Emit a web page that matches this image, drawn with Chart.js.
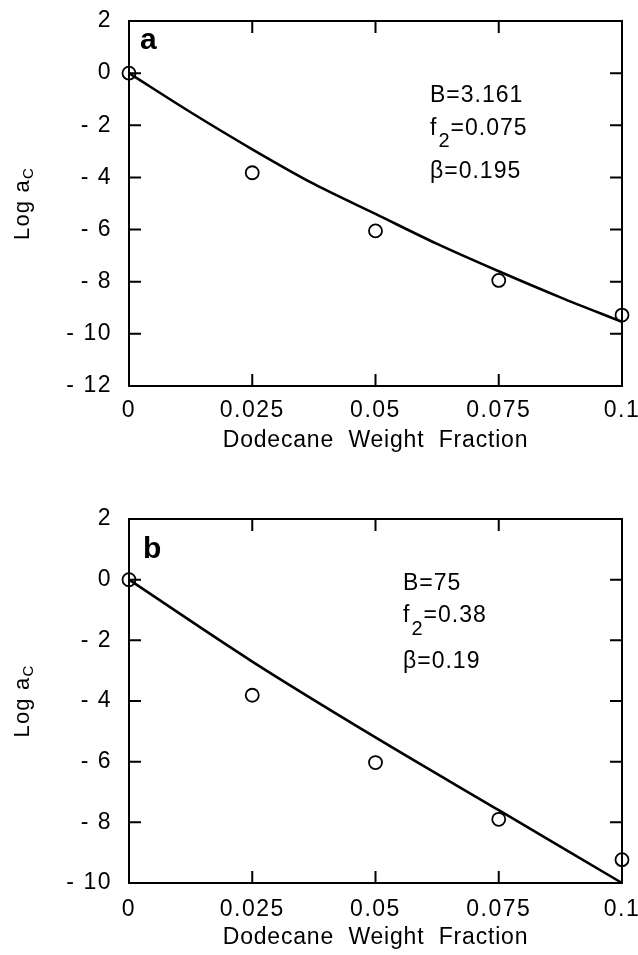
<!DOCTYPE html>
<html>
<head>
<meta charset="utf-8">
<script src="https://cdn.jsdelivr.net/npm/chart.js@4"></script>
<style>
  html, body { margin: 0; padding: 0; background: #fff; overflow: hidden; }
  #wrap { position: relative; width: 638px; height: 955px; overflow: hidden; }
  .panel { position: absolute; left: 0; }
</style>
</head>
<body>
<div id="wrap">
  <div class="panel" style="top:0"><canvas id="chartA" width="660" height="470"></canvas></div>
  <div class="panel" style="top:470px"><canvas id="chartB" width="660" height="485"></canvas></div>
</div>
<script>
// data
const xTicks = [0, 0.025, 0.05, 0.075, 0.1];
const xTickLabels = ["0", "0.025", "0.05", "0.075", "0.1"];

const obsX = [0, 0.025, 0.05, 0.075, 0.1];
const obsA = [0, -3.82, -6.05, -7.95, -9.28];
const obsB = [0, -3.81, -6.03, -7.9, -9.23];

const fitAX = [0, 0.0125, 0.025, 0.0375, 0.05, 0.0625, 0.075, 0.0875, 0.1];
const fitA = [0, -1.5, -2.92, -4.25, -5.4, -6.55, -7.6, -8.6, -9.54];
const fitBX = [0, 0.025, 0.05, 0.075, 0.1];
const fitB = [0, -2.7, -5.2, -7.6, -10];

const paramsA = ["B=3.161", "0.075", "β=0.195"];
const paramsB = ["B=75", "0.38", "β=0.19"];

const xTitle = "Dodecane  Weight  Fraction";

const FONT = "'Liberation Sans', Arial, Helvetica, sans-serif";

function pts(xs, ys) {
  return xs.map((x, i) => ({ x: x, y: ys[i] }));
}

function yLabel(v) {
  return v < 0 ? "- " + Math.abs(v) : String(v);
}

// frame, inside ticks, panel letter, parameters and axis titles
const framePlugin = {
  id: "frame",
  beforeLayout(chart) { chart.ctx.letterSpacing = "1.5px"; },
  beforeDraw(chart) { chart.ctx.letterSpacing = "1.5px"; },
  afterDraw(chart, args, o) {
    const { ctx, chartArea: a, scales: { x, y } } = chart;
    ctx.save();
    ctx.strokeStyle = "#000";
    ctx.lineWidth = 2;
    ctx.strokeRect(a.left, a.top, a.right - a.left, a.bottom - a.top);

    ctx.beginPath();
    x.ticks.forEach(t => {
      const px = x.getPixelForValue(t.value);
      ctx.moveTo(px, a.bottom); ctx.lineTo(px, a.bottom - 12);
      ctx.moveTo(px, a.top); ctx.lineTo(px, a.top + 12);
    });
    y.ticks.forEach(t => {
      const py = y.getPixelForValue(t.value);
      ctx.moveTo(a.left, py); ctx.lineTo(a.left + 12, py);
      ctx.moveTo(a.right, py); ctx.lineTo(a.right - 12, py);
    });
    ctx.stroke();

    ctx.fillStyle = "#000";
    ctx.textAlign = "left";
    ctx.textBaseline = "alphabetic";

    // panel letter
    ctx.letterSpacing = "0px";
    ctx.font = "bold 30px " + FONT;
    ctx.fillText(o.letter, o.letterX, o.letterY);

    // fit parameters
    ctx.letterSpacing = "1px";
    ctx.font = "23px " + FONT;
    const p = o.params;
    ctx.fillText(p[0], o.px, o.py[0]);
    ctx.fillText("f", o.px, o.py[1]);
    const fw = ctx.measureText("f").width;
    ctx.font = "20px " + FONT;
    ctx.fillText("2", o.px + fw + 1, o.subY);
    const sw = ctx.measureText("2").width;
    ctx.font = "23px " + FONT;
    ctx.fillText("=" + p[1], o.px + fw + sw + 1, o.py[1]);
    ctx.fillText(p[2], o.px, o.py[2]);

    // x axis title
    ctx.letterSpacing = "0.8px";
    ctx.textAlign = "center";
    ctx.textBaseline = "middle";
    ctx.font = "23px " + FONT;
    ctx.fillText(xTitle, (a.left + a.right) / 2, o.xTitleY);

    // y axis title: Log a with subscript C
    ctx.textAlign = "left";
    ctx.textBaseline = "alphabetic";
    ctx.letterSpacing = "1.2px";
    const cy = (a.top + a.bottom) / 2;
    ctx.translate(o.titleX, cy);
    ctx.rotate(-Math.PI / 2);
    ctx.font = "22px " + FONT;
    const w1 = ctx.measureText("Log a").width;
    ctx.font = "15px " + FONT;
    const w2 = ctx.measureText("C").width;
    const x0 = -(w1 + w2) / 2;
    ctx.font = "22px " + FONT;
    ctx.fillText("Log a", x0, 0);
    ctx.font = "15px " + FONT;
    ctx.fillText("C", x0 + w1, 4);
    ctx.restore();
  }
};

function makeChart(id, obsY, fitX, fitY, yMin, opts) {
  const ctx = document.getElementById(id).getContext("2d");
  return new Chart(ctx, {
    type: "scatter",
    data: {
      datasets: [
        {
          label: "measured",
          data: pts(obsX, obsY),
          showLine: false,
          pointStyle: "circle",
          pointRadius: 6.5,
          pointBorderWidth: 1.8,
          pointBorderColor: "#000",
          pointBackgroundColor: "rgba(0,0,0,0)",
          clip: false
        },
        {
          label: "fit",
          data: pts(fitX, fitY),
          showLine: true,
          borderColor: "#000",
          borderWidth: 2.6,
          pointRadius: 0,
          cubicInterpolationMode: "monotone",
          clip: false
        }
      ]
    },
    options: {
      responsive: false,
      devicePixelRatio: 1,
      animation: false,
      layout: { padding: { left: 0, right: 38, top: opts.top, bottom: 0 } },
      plugins: {
        legend: { display: false },
        tooltip: { enabled: false },
        frame: opts.frame
      },
      scales: {
        x: {
          type: "linear",
          min: 0,
          max: 0.1,
          grid: { display: false, drawTicks: false },
          border: { display: false },
          ticks: {
            stepSize: 0.025,
            padding: opts.xPad,
            color: "#000",
            font: { family: FONT, size: 23 },
            callback: v => xTickLabels[xTicks.findIndex(t => Math.abs(t - v) < 1e-9)]
          },
          afterFit(s) {
            s.height = opts.xHeight;
            s.paddingLeft = 0;
            s.paddingRight = 0;
          }
        },
        y: {
          min: yMin,
          max: 2,
          grid: { display: false, drawTicks: false },
          border: { display: false },
          ticks: {
            stepSize: 2,
            padding: 17,
            color: "#000",
            font: { family: FONT, size: 23 },
            callback: v => yLabel(v)
          },
          afterFit(s) {
            s.width = 129;
            s.paddingTop = 0;
            s.paddingBottom = 0;
          }
        }
      }
    },
    plugins: [framePlugin]
  });
}

makeChart("chartA", obsA, fitAX, fitA, -12, {
  top: 21, xHeight: 84, xPad: 11,
  frame: { letter: "a", letterX: 140, letterY: 49, params: paramsA, px: 430, py: [102, 135, 178], subY: 147, titleX: 29, xTitleY: 441 }
});

makeChart("chartB", obsB, fitBX, fitB, -10, {
  top: 49, xHeight: 72, xPad: 13,
  frame: { letter: "b", letterX: 143, letterY: 88, params: paramsB, px: 403, py: [120, 152, 198], subY: 165, titleX: 29, xTitleY: 468 }
});
</script>
</body>
</html>
